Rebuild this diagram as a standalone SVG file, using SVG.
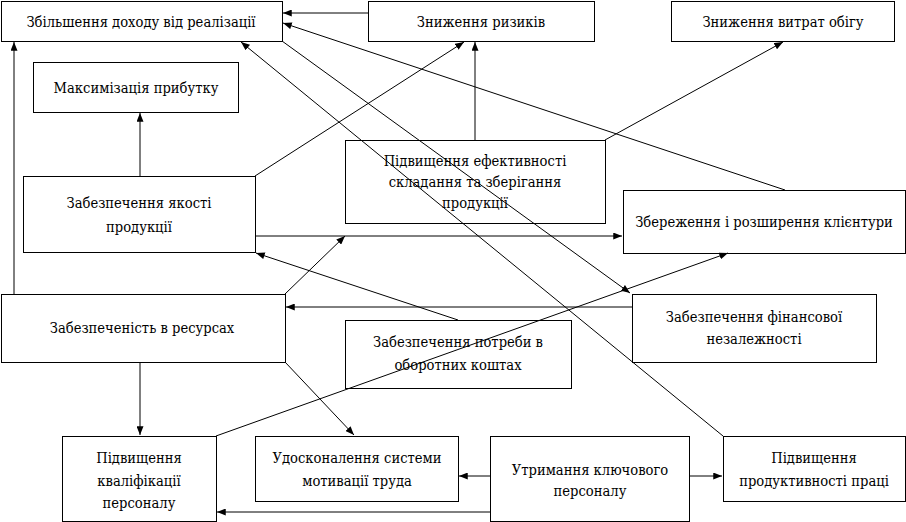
<svg xmlns="http://www.w3.org/2000/svg" width="906" height="522" viewBox="0 0 906 522">
<style>
rect{fill:#fff;stroke:#000;stroke-width:1}
text{font-family:'DejaVu Serif Condensed','DejaVu Serif',serif;font-stretch:condensed;font-size:14.6px;fill:#000;text-anchor:middle}
.c line{stroke:#000;stroke-width:1;marker-end:url(#ah)}
</style>
<defs>
<marker id="ah" viewBox="0 0 10 8" refX="10" refY="4" markerWidth="9" markerHeight="7" markerUnits="userSpaceOnUse" orient="auto">
<path d="M0,0 L10,4 L0,8 Z" fill="#000"/>
</marker>
</defs>
<rect x="0" y="0" width="906" height="522" style="stroke:none"/>
<g id="n1"><rect x="1.5" y="1.5" width="281" height="40"/><text x="141" y="27">Збільшення доходу від реалізації</text></g>
<g id="n2"><rect x="368.5" y="1.5" width="226" height="40"/><text x="481" y="27">Зниження ризиків</text></g>
<g id="n3"><rect x="671.5" y="1.5" width="223" height="40"/><text x="783" y="27">Зниження витрат обігу</text></g>
<g id="n4"><rect x="33.5" y="62.5" width="205" height="50"/><text x="136" y="93">Максимізація прибутку</text></g>
<g id="n5"><rect x="23.5" y="176.5" width="232" height="76"/><text x="139" y="208">Забезпечення якості</text><text x="139" y="232">продукції</text></g>
<g id="n6"><rect x="345.5" y="140.5" width="260" height="83"/><text x="475" y="166">Підвищення ефективності</text><text x="475" y="187">складання та зберігання</text><text x="475" y="208">продукції</text></g>
<g id="n7"><rect x="623.5" y="190.5" width="282" height="63"/><text x="764" y="227">Збереження і розширення клієнтури</text></g>
<g id="n8"><rect x="1.5" y="294.5" width="284" height="68"/><text x="142" y="333">Забезпеченість в ресурсах</text></g>
<g id="n9"><rect x="345.5" y="320.5" width="226" height="68"/><text x="458" y="347">Забезпечення потреби в</text><text x="458" y="370">оборотних коштах</text></g>
<g id="n10"><rect x="632.5" y="294.5" width="244" height="68"/><text x="754" y="322">Забезпечення фінансової</text><text x="754" y="344">незалежності</text></g>
<g id="n11"><rect x="62.5" y="436.5" width="154" height="85"/><text x="139" y="463">Підвищення</text><text x="139" y="486">кваліфікації</text><text x="139" y="508">персоналу</text></g>
<g id="n12"><rect x="255.5" y="436.5" width="203" height="65"/><text x="357" y="463">Удосконалення системи</text><text x="357" y="486">мотивації труда</text></g>
<g id="n13"><rect x="490.5" y="436.5" width="199" height="85"/><text x="590" y="475">Утримання ключового</text><text x="590" y="496">персоналу</text></g>
<g id="n14"><rect x="723.5" y="436.5" width="182" height="65"/><text x="814" y="463">Підвищення</text><text x="814" y="486">продуктивності праці</text></g>
<g class="c" id="connectors">
<line x1="368" y1="13" x2="283" y2="13"/>
<line x1="785" y1="190" x2="283" y2="23"/>
<line x1="723" y1="436" x2="241" y2="42"/>
<line x1="282" y1="41" x2="630" y2="293"/>
<line x1="255" y1="176" x2="464" y2="42"/>
<line x1="475" y1="140" x2="475" y2="42"/>
<line x1="605" y1="140" x2="783" y2="42"/>
<line x1="140" y1="176" x2="140" y2="113"/>
<line x1="14" y1="294" x2="14" y2="42"/>
<line x1="255" y1="236" x2="622" y2="236"/>
<line x1="285" y1="294" x2="345" y2="236"/>
<line x1="458" y1="320" x2="256" y2="253"/>
<line x1="632" y1="307" x2="286" y2="307"/>
<line x1="140" y1="362" x2="140" y2="435"/>
<line x1="285" y1="362" x2="354" y2="435"/>
<line x1="216" y1="436" x2="728" y2="253"/>
<line x1="490" y1="476" x2="459" y2="476"/>
<line x1="689" y1="476" x2="722" y2="476"/>
<line x1="490" y1="512" x2="217" y2="512"/>
</g>
</svg>
